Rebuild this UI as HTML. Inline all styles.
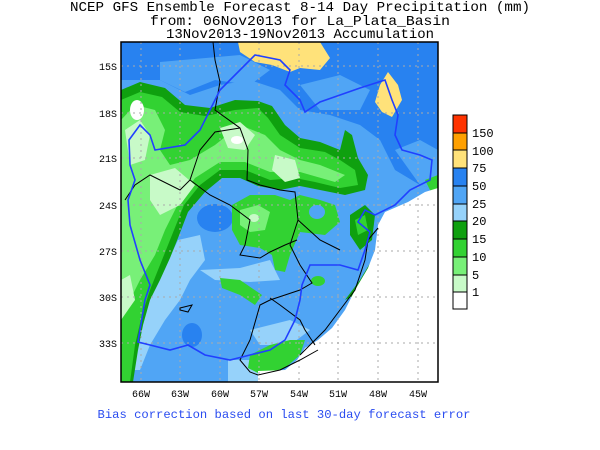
<!DOCTYPE html>
<html><head><style>
body{margin:0;background:#fff;width:600px;height:450px;overflow:hidden;font-family:"DejaVu Sans","Liberation Sans",sans-serif}
</style></head><body>
<svg width="600" height="450" xmlns="http://www.w3.org/2000/svg" style="position:absolute;left:0;top:0">
<g font-family="Liberation Mono, DejaVu Sans Mono, monospace" font-size="14" fill="#000" text-anchor="middle">
<text x="300" y="11" textLength="460" lengthAdjust="spacingAndGlyphs">NCEP GFS Ensemble Forecast 8-14 Day Precipitation (mm)</text>
<text x="300" y="25" textLength="300" lengthAdjust="spacingAndGlyphs">from: 06Nov2013   for La_Plata_Basin</text>
<text x="300" y="38" textLength="268" lengthAdjust="spacingAndGlyphs">13Nov2013-19Nov2013 Accumulation</text>
</g>
<defs><clipPath id="c"><rect x="121" y="42" width="317" height="340"/></clipPath></defs>
<g clip-path="url(#c)">
<rect x="121" y="42" width="317" height="340" fill="#50a5f5"/>
<path d="M121,42 H438 V190 L420,185 L395,170 L380,140 L360,125 L330,115 L300,110 L280,90 L250,80 L220,85 L190,95 L160,80 L121,80Z" fill="#2882f0"/>
<path d="M160,62 L240,55 L270,70 L250,85 L215,80 L185,92 L160,80Z" fill="#50a5f5"/>
<path d="M300,85 L340,75 L370,90 L360,110 L320,110Z" fill="#50a5f5"/>
<path d="M395,150 L420,140 L438,150 V190 L420,185Z" fill="#50a5f5"/>
<ellipse cx="215" cy="218" rx="18" ry="14" fill="#2882f0"/>
<ellipse cx="192" cy="335" rx="10" ry="12" fill="#2882f0"/>
<path d="M178,240 L200,235 L205,260 L190,280 L180,300 L165,320 L150,345 L140,370 L130,370 L140,320Z" fill="#96d2fa"/>
<path d="M200,270 L240,268 L270,260 L280,280 L250,282 L215,280Z" fill="#96d2fa"/>
<path d="M250,330 L290,320 L310,330 L290,345 L260,345Z" fill="#96d2fa"/>
<path d="M228,360 L260,360 L262,382 L228,382Z" fill="#96d2fa"/>
<path d="M238,42 L320,42 L330,58 L320,70 L300,68 L290,72 L272,65 L255,62 L240,52Z" fill="#ffe27a"/>
<path d="M388,72 L398,85 L402,100 L392,117 L382,112 L375,102 L380,85Z" fill="#ffe27a"/>
<path d="M121,90 L140,82 L165,88 L185,105 L210,108 L235,100 L258,101 L272,106 L285,125 L300,138 L320,142 L340,150 L345,130 L352,135 L358,158 L368,175 L365,190 L345,195 L320,190 L300,186 L280,190 L258,186 L240,178 L222,178 L205,192 L188,212 L178,238 L170,258 L160,280 L150,300 L143,325 L138,350 L133,382 L121,382Z" fill="#0fa00f"/>
<path d="M121,100 L140,92 L162,97 L180,112 L205,116 L235,110 L258,108 L268,118 L280,135 L300,148 L325,152 L340,160 L355,170 L358,185 L340,188 L315,182 L295,178 L270,180 L245,170 L220,170 L200,185 L184,205 L172,235 L162,260 L150,290 L142,315 L135,345 L130,382 L121,382Z" fill="#32d232"/>
<path d="M121,120 L135,105 L155,110 L165,130 L160,150 L170,165 L190,160 L215,145 L240,125 L265,135 L280,150 L300,160 L320,165 L345,175 L335,182 L300,172 L270,172 L245,162 L220,162 L195,178 L180,200 L165,230 L155,255 L140,280 L125,310 L121,320Z" fill="#78f078"/>
<path d="M125,130 L140,120 L150,135 L145,160 L130,165Z" fill="#c8fac8"/>
<path d="M150,175 L175,168 L195,185 L180,205 L160,215 L150,200Z" fill="#c8fac8"/>
<path d="M121,280 L130,275 L135,300 L121,320Z" fill="#c8fac8"/>
<path d="M220,128 L240,122 L255,135 L245,150 L228,148Z" fill="#c8fac8"/>
<path d="M275,155 L295,160 L300,178 L285,182 L272,170Z" fill="#c8fac8"/>
<ellipse cx="137" cy="110" rx="7" ry="10" fill="#fff"/>
<ellipse cx="237" cy="140" rx="6" ry="4" fill="#fff"/>
<path d="M232,205 L250,195 L275,195 L290,200 L300,195 L320,200 L335,205 L340,222 L325,235 L300,232 L290,255 L285,272 L275,270 L272,255 L260,248 L240,245 L232,230Z" fill="#32d232"/>
<path d="M240,210 L258,205 L270,212 L265,230 L250,232 L240,225Z" fill="#78f078"/>
<ellipse cx="254" cy="218" rx="5" ry="4" fill="#c8fac8"/>
<ellipse cx="317" cy="212" rx="8" ry="7" fill="#50a5f5"/>
<path d="M350,215 L365,205 L375,215 L372,240 L360,250 L350,235Z" fill="#0fa00f"/>
<path d="M355,220 L365,215 L368,230 L358,235Z" fill="#32d232"/>
<path d="M220,278 L240,280 L262,295 L255,305 L240,295 L222,288Z" fill="#32d232"/>
<ellipse cx="318" cy="281" rx="7" ry="5" fill="#32d232"/>
<path d="M250,355 L270,345 L290,340 L305,340 L300,355 L285,368 L262,375 L248,368Z" fill="#32d232"/>
<path d="M360,280 L375,255 L370,270 L355,295 L345,300Z" fill="#0fa00f"/>
<path d="M425,180 L438,175 V195 L430,190Z" fill="#32d232"/>
<path d="M438,188 L425,192 L408,202 L385,212 L378,225 L375,250 L368,268 L355,290 L345,310 L332,328 L318,340 L305,348 L297,360 L285,370 L258,371 L258,382 L438,382Z" fill="#fff"/>
<g stroke="#aaa" stroke-width="1" stroke-dasharray="2,4">
<line x1="121" x2="438" y1="66" y2="66"/><line x1="121" x2="438" y1="113" y2="113"/>
<line x1="121" x2="438" y1="158" y2="158"/><line x1="121" x2="438" y1="205" y2="205"/>
<line x1="121" x2="438" y1="251" y2="251"/><line x1="121" x2="438" y1="297" y2="297"/>
<line x1="121" x2="438" y1="343" y2="343"/>
<line x1="141" x2="141" y1="42" y2="382"/><line x1="180" x2="180" y1="42" y2="382"/>
<line x1="220" x2="220" y1="42" y2="382"/><line x1="259" x2="259" y1="42" y2="382"/>
<line x1="299" x2="299" y1="42" y2="382"/><line x1="338" x2="338" y1="42" y2="382"/>
<line x1="378" x2="378" y1="42" y2="382"/><line x1="418" x2="418" y1="42" y2="382"/>
</g>
<g fill="none" stroke="#000" stroke-width="1">
<path d="M213,42 L215,60 L220,82 L215,110 L240,128 L248,150 L247,180 L260,185 L280,190 L295,192 L298,220 L290,245 L300,265 L312,283 L300,290 L285,295 L270,300 L260,305 L250,340 L240,360 L250,372 L258,375 L280,370 L300,360 L318,350"/>
<path d="M240,128 L215,132 L200,150 L190,180 L180,190 L160,180 L150,175 L135,185 L125,200"/>
<path d="M190,180 L210,195 L230,205 L250,220 L245,245 L240,255 L260,258 L270,252 L285,245 L297,240"/>
<path d="M270,298 L280,305 L300,320 L305,330 L315,345"/>
<path d="M298,220 L320,240 L340,250"/>
<path d="M378,228 L368,240 L365,260 L355,290 L340,310 L325,330 L310,345 L300,355"/>
<path d="M180,308 L192,305 L188,312 L180,310Z"/>
</g>
<g fill="none" stroke="#2040ff" stroke-width="1.6">
<path d="M129,140 L140,125 L150,135 L155,150 L185,145 L200,130 L210,110 L220,90 L240,70 L255,55 L280,60 L290,70 L285,85 L300,100 L305,112 L320,102 L340,95 L360,88 L385,80 L392,100 L398,115 L395,135 L402,150 L420,155 L432,160 L430,180 L410,190 L395,205 L375,215 L365,210 L358,222 L370,232 L365,250 L358,270 L340,265 L310,265 L302,285 L300,300 L295,320 L285,340 L270,350 L250,355 L230,360 L205,355 L188,345 L170,350 L150,345 L138,342 L140,330 L145,300 L150,285 L140,260 L130,225 L128,200 L135,180 L130,165 L129,140Z"/>
</g>
</g>
<rect x="121" y="42" width="317" height="340" fill="none" stroke="#000" stroke-width="1.5"/>
<g font-family="Liberation Mono, DejaVu Sans Mono, monospace" font-size="10" fill="#000">
<g text-anchor="end">
<text x="117" y="70">15S</text><text x="117" y="117">18S</text><text x="117" y="162">21S</text>
<text x="117" y="209">24S</text><text x="117" y="255">27S</text><text x="117" y="301">30S</text><text x="117" y="347">33S</text>
</g>
<g text-anchor="middle">
<text x="141" y="397">66W</text><text x="180" y="397">63W</text><text x="220" y="397">60W</text><text x="259" y="397">57W</text>
<text x="299" y="397">54W</text><text x="338" y="397">51W</text><text x="378" y="397">48W</text><text x="418" y="397">45W</text>
</g>
</g>
<text x="284" y="418" font-family="Liberation Mono, DejaVu Sans Mono, monospace" font-size="12" fill="#2a4cf0" text-anchor="middle" textLength="373" lengthAdjust="spacingAndGlyphs">Bias correction based on last 30-day forecast error</text>
<g stroke="#000" stroke-width="1">
<rect x="453" y="115" width="14" height="18" fill="#ff3300"/>
<rect x="453" y="133" width="14" height="17" fill="#ffa000"/>
<rect x="453" y="150" width="14" height="18" fill="#ffe27a"/>
<rect x="453" y="168" width="14" height="18" fill="#2882f0"/>
<rect x="453" y="186" width="14" height="18" fill="#50a5f5"/>
<rect x="453" y="204" width="14" height="17" fill="#96d2fa"/>
<rect x="453" y="221" width="14" height="18" fill="#0fa00f"/>
<rect x="453" y="239" width="14" height="18" fill="#32d232"/>
<rect x="453" y="257" width="14" height="18" fill="#78f078"/>
<rect x="453" y="275" width="14" height="17" fill="#c8fac8"/>
<rect x="453" y="292" width="14" height="17" fill="#fff"/>
</g>
<g font-family="Liberation Mono, DejaVu Sans Mono, monospace" font-size="12" fill="#000">
<text x="472" y="137">150</text><text x="472" y="155">100</text><text x="472" y="172">75</text>
<text x="472" y="190">50</text><text x="472" y="208">25</text><text x="472" y="225">20</text>
<text x="472" y="243">15</text><text x="472" y="261">10</text><text x="472" y="279">5</text>
<text x="472" y="296">1</text>
</g>
</svg>
</body></html>
